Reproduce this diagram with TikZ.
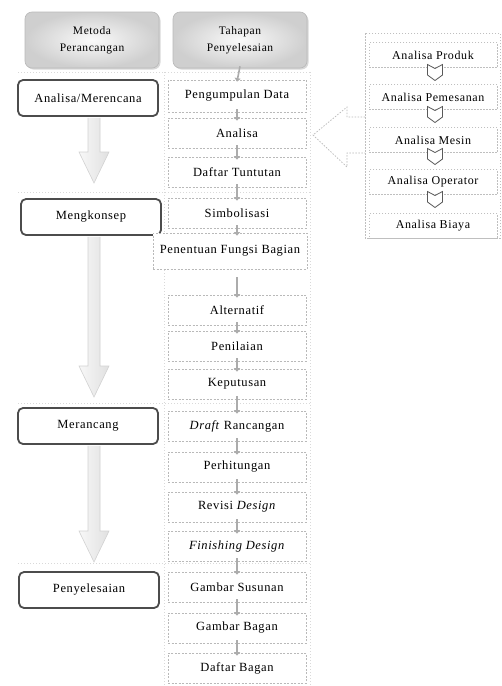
\documentclass[tikz,border=0pt]{standalone}
\usepackage{fontspec}
\setmainfont{Liberation Serif}[LetterSpace=5]
\usetikzlibrary{shadows,arrows.meta,calc}
\tikzset{
 hdr/.style={rounded corners=7pt, inner color=gray!4, outer color=gray!38, draw=gray!55, line width=0.6pt,
   drop shadow={opacity=0.3, shadow xshift=1.5pt, shadow yshift=-1.5pt}, align=center,
   minimum width=134pt, minimum height=56pt, font=\fontsize{11.5}{17}\selectfont, inner sep=2pt, text=black},
 phase/.style={rounded corners=5pt, draw=black!70, line width=1.8pt, fill=white, minimum width=140pt,
   minimum height=36pt, font=\fontsize{12.5}{15}\selectfont, inner sep=1pt},
 stepbox/.style={draw=gray!55, dash pattern=on 2pt off 1.5pt, line width=0.7pt, fill=white, minimum width=138pt,
   minimum height=30pt, font=\fontsize{12.5}{15}\selectfont, inner sep=1pt},
 stepar/.style={draw=gray!65, line width=1.6pt, -{Triangle[width=6pt,length=3.5pt]}},
 itembox/.style={draw=gray!50, dash pattern=on 1.5pt off 1.5pt, line width=0.6pt, minimum width=128pt,
   minimum height=25pt, font=\fontsize{12}{14}\selectfont, inner sep=1pt},
 outerbox/.style={draw=gray!50, dash pattern=on 1.5pt off 1.5pt, line width=0.6pt},
 bigarrow/.style={draw=gray!35, line width=0.6pt, left color=gray!6, right color=gray!24},
 gridline/.style={draw=gray!30, dash pattern=on 1pt off 2pt, line width=0.6pt},
 callout/.style={draw=gray!55, dash pattern=on 1.5pt off 1.5pt, line width=0.7pt},
 notch/.style={draw=black!65, line width=0.8pt, fill=white}
}
\begin{document}
\begin{tikzpicture}[x=1pt,y=-1pt]
\useasboundingbox[fill=white] (0,0) rectangle (502,686);

% faint group grid lines
\draw[gridline] (18,72) -- (310,72);
\draw[gridline] (18,192) -- (310,192);
\draw[gridline] (18,403) -- (310,403);
\draw[gridline] (18,563) -- (310,563);
\draw[gridline] (164,72) -- (164,686);
\draw[gridline] (310,72) -- (310,686);

% headers
\node[hdr] (h1) at (92,40) {Metoda\\Perancangan};
\node[hdr] (h2) at (240,40) {Tahapan\\Penyelesaian};

% phase boxes
\node[phase] (p1) at (88,98) {Analisa/Merencana};
\node[phase] (p2) at (91,217) {Mengkonsep};
\node[phase] (p3) at (88,426) {Merancang};
\node[phase] (p4) at (89,590) {Penyelesaian};

% big arrows
\coordinate (t1) at (94,183);
\coordinate (t2) at (94,397);
\coordinate (t3) at (94,562);
\draw[bigarrow] ($(p1.south -| t1)+(-6,1)$) -- ($(t1)+(-6,-31)$) -- ($(t1)+(-15,-31)$) -- (t1) -- ($(t1)+(15,-31)$) -- ($(t1)+(6,-31)$) -- ($(p1.south -| t1)+(6,1)$);
\draw[bigarrow] ($(p2.south -| t2)+(-6,1)$) -- ($(t2)+(-6,-31)$) -- ($(t2)+(-15,-31)$) -- (t2) -- ($(t2)+(15,-31)$) -- ($(t2)+(6,-31)$) -- ($(p2.south -| t2)+(6,1)$);
\draw[bigarrow] ($(p3.south -| t3)+(-6,1)$) -- ($(t3)+(-6,-31)$) -- ($(t3)+(-15,-31)$) -- (t3) -- ($(t3)+(15,-31)$) -- ($(t3)+(6,-31)$) -- ($(p3.south -| t3)+(6,1)$);

% step boxes
\node[stepbox, minimum height=32pt] (s1) at (237,96) {Pengumpulan Data};
\node[stepbox] (s2) at (237,133) {Analisa};
\node[stepbox] (s3) at (237,172) {Daftar Tuntutan};
\node[stepbox] (s4) at (237,213) {Simbolisasi};
\node[stepbox, minimum width=154pt, minimum height=36pt] (s5) at (230,251) {Penentuan Fungsi Bagian};
\node[stepbox] (s6) at (237,310) {Alternatif};
\node[stepbox] (s7) at (237,346) {Penilaian};
\node[stepbox] (s8) at (237,384) {Keputusan};
\node[stepbox] (s9) at (237,426) {\textit{Draft} Rancangan};
\node[stepbox] (s10) at (237,467) {Perhitungan};
\node[stepbox] (s11) at (237,507) {Revisi \textit{Design}};
\node[stepbox] (s12) at (237,546) {\textit{Finishing Design}};
\node[stepbox] (s13) at (237,587) {Gambar Susunan};
\node[stepbox] (s14) at (237,628) {Gambar Bagan};
\node[stepbox] (s15) at (237,668) {Daftar Bagan};

% small step arrows
\draw[stepar] ($(h2.south)+(0,-2)$) -- ($(s1.north)+(0,2)$);
\foreach \a/\b in {s1/s2,s2/s3,s3/s4,s6/s7,s7/s8,s8/s9,s9/s10,s10/s11,s11/s12,s12/s13,s13/s14,s14/s15}
  \draw[stepar] ($(\a.south)+(0,-3)$) -- ($(\b.north)+(0,3)$);
\draw[stepar] ($(s4.south)+(0,-3)$) -- ($(s4.south |- s5.north)+(0,3)$);
\draw[stepar] ($(s5.south -| s6.north)+(0,8)$) -- ($(s6.north)+(0,3)$);

% right panel
\draw[outerbox] (365,33) rectangle (500,238);
\node[itembox] (r1) at (433,55) {Analisa Produk};
\node[itembox] (r2) at (433,97) {Analisa Pemesanan};
\node[itembox] (r3) at (433,140) {Analisa Mesin};
\node[itembox] (r4) at (433,182) {Analisa Operator};
\node[itembox] (r5) at (433,226) {Analisa Biaya};
\coordinate (c1) at (435,72);
\coordinate (c2) at (435,114);
\coordinate (c3) at (435,156);
\coordinate (c4) at (435,199);
\foreach \c in {c1,c2,c3,c4}
  \draw[notch, shift={(\c)}] (-7.5,-7.5) -- (0,-3.5) -- (7.5,-7.5) -- (7.5,3) -- (0,8.5) -- (-7.5,3) -- cycle;

% callout arrow from Analisa to right panel
\coordinate (ct) at (313,135);
\draw[callout] (365,117) -- ($(ct)+(34,-18)$) -- ($(ct)+(34,-28)$) -- (ct) -- ($(ct)+(34,32)$) -- ($(ct)+(34,18)$) -- (365,153);
\end{tikzpicture}
\end{document}
